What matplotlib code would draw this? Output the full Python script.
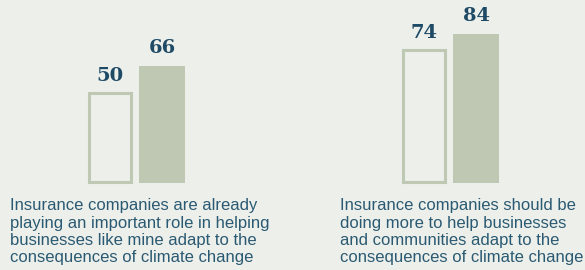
import matplotlib.pyplot as plt

# dados
categorias = [
    "Insurance companies are already\nplaying an important role in helping\nbusinesses like mine adapt to the\nconsequences of climate change",
    "Insurance companies should be\ndoing more to help businesses\nand communities adapt to the\nconsequences of climate change",
]
valores_vazados = [50, 74]
valores_cheios = [66, 84]

fundo = "#EDEFEB"
verde = "#BEC8B3"
azul_num = "#1E4A66"
azul_txt = "#2A5A72"

fig = plt.figure(figsize=(5.85, 2.7), dpi=100)
fig.patch.set_facecolor(fundo)
ax = fig.add_axes([0, 0, 1, 1])
ax.set_facecolor(fundo)
ax.set_xlim(0, 585)
ax.set_ylim(-49.0, 103.1)
ax.axis("off")

# posicoes dos grupos (em px)
x_vazado = [110.2, 424.0]
x_cheio = [161.9, 476.2]
larg = 44.5

for i in range(len(categorias)):
    ax.bar(x_vazado[i], valores_vazados[i], width=larg - 2.6, bottom=0.8,
           facecolor="none", edgecolor=verde, linewidth=2.2)
    ax.bar(x_cheio[i], valores_cheios[i], width=larg + 1, color=verde, linewidth=0)
    ax.text(x_vazado[i], valores_vazados[i] + 7.5, str(valores_vazados[i]),
            ha="center", va="baseline", fontsize=14, fontweight="bold",
            family="DejaVu Serif", color=azul_num)
    ax.text(x_cheio[i], valores_cheios[i] + 7.5, str(valores_cheios[i]),
            ha="center", va="baseline", fontsize=14, fontweight="bold",
            family="DejaVu Serif", color=azul_num)

x_txt = [10, 340]
for i, cat in enumerate(categorias):
    ax.text(x_txt[i], -8.6, cat, ha="left", va="top", fontsize=12,
            family="Liberation Sans", color=azul_txt, linespacing=1.2)

fig.savefig("out.png", dpi=100, facecolor=fundo)
